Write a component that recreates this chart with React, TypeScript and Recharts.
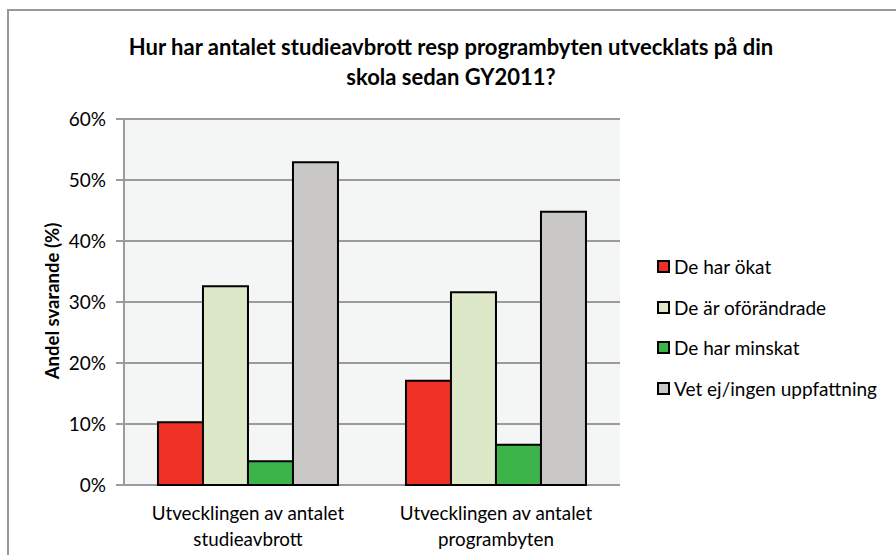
import { BarChart, Bar, XAxis, YAxis, CartesianGrid, Legend } from 'recharts'

const categories = ['Utvecklingen av antalet studieavbrott', 'Utvecklingen av antalet programbyten']
const okat = [10.3, 17.1]
const oforandrade = [32.6, 31.6]
const minskat = [3.9, 6.6]
const vetEj = [52.9, 44.8]
const yTicks = [0, 10, 20, 30, 40, 50, 60]

const series = [
  { key: 'okat', name: 'De har ökat', color: '#ee3124' },
  { key: 'oforandrade', name: 'De är oförändrade', color: '#dde8c9' },
  { key: 'minskat', name: 'De har minskat', color: '#3cb44a' },
  { key: 'vetEj', name: 'Vet ej/ingen uppfattning', color: '#c9c8c6' },
]

const data = categories.map((c, i) => ({
  cat: c,
  pos: i + 0.5,
  okat: okat[i],
  oforandrade: oforandrade[i],
  minskat: minskat[i],
  vetEj: vetEj[i],
}))

const FONT = 'Lato, "Open Sans", sans-serif'

function CatTick({ x, y, payload }: any) {
  const words = String(payload.value).split(' ')
  const line1 = words.slice(0, 3).join(' ')
  const line2 = words.slice(3).join(' ')
  return (
    <text x={x} y={y} textAnchor="middle" fontSize={18.8} fill="#000" fontFamily={FONT}>
      <tspan x={x} dy={27}>{line1}</tspan>
      <tspan x={x} dy={26}>{line2}</tspan>
    </text>
  )
}

function LegendList() {
  return (
    <div style={{ fontFamily: FONT, fontSize: 19, color: '#000' }}>
      {series.map(s => (
        <div key={s.key} style={{ display: 'flex', alignItems: 'center', height: 40.7 }}>
          <span style={{ width: 9, height: 9, background: s.color, border: '2px solid #000', marginRight: 4 }} />
          <span>{s.name}</span>
        </div>
      ))}
    </div>
  )
}

export default function App() {
  return (
    <div style={{ position: 'absolute', left: 0, top: 0, width: 896, height: 555, background: '#fff', overflow: 'hidden' }}>
      <div style={{ position: 'absolute', left: 7, top: 9, width: 900, height: 560, border: '2px solid #999' }} />
      <div style={{
        position: 'absolute', left: 0, top: 32, width: 902, textAlign: 'center',
        fontFamily: FONT, fontWeight: 700, fontSize: 22, lineHeight: '30px', color: '#000',
      }}>
        Hur har antalet studieavbrott resp programbyten utvecklats på din<br />skola sedan GY2011?
      </div>
      <BarChart
        width={896}
        height={555}
        data={data}
        margin={{ top: 119, right: 276, bottom: 20, left: 64 }}
        barCategoryGap="13.7%"
        barGap={0}
        style={{ position: 'absolute', left: 0, top: 0 }}
      >
        <CartesianGrid vertical={false} stroke="#9b9b9b" strokeWidth={2} fill="#f4f6f5" />
        <XAxis
          xAxisId="cat"
          dataKey="cat"
          tickLine={false}
          axisLine={false}
          height={50}
          interval={0}
          tick={<CatTick />}
        />
        <XAxis
          xAxisId="edge"
          type="number"
          dataKey="pos"
          domain={[0, 2]}
          ticks={[0, 1, 2]}
          tick={false}
          tickSize={7}
          stroke="#9b9b9b"
          axisLine={{ stroke: '#9b9b9b', strokeWidth: 2 }}
          tickLine={{ stroke: '#9b9b9b', strokeWidth: 2 }}
          height={0}
        />
        <YAxis
          domain={[0, 60]}
          ticks={yTicks}
          width={60}
          tickSize={8}
          tickMargin={10}
          tickFormatter={v => `${v}%`}
          tick={{ fontSize: 19, fill: '#000', fontFamily: FONT }}
          axisLine={{ stroke: '#9b9b9b', strokeWidth: 2 }}
          tickLine={{ stroke: '#9b9b9b', strokeWidth: 2 }}
        />
        <text
          x={52}
          y={301}
          transform="rotate(-90, 52, 301)"
          textAnchor="middle"
          dominantBaseline="central"
          fontFamily={FONT}
          fontWeight={700}
          fontSize={18.5}
          fill="#000"
        >
          Andel svarande (%)
        </text>
        <Legend
          verticalAlign="middle"
          layout="horizontal"
          content={<LegendList />}
          wrapperStyle={{ left: 657, top: 246, width: 236 }}
        />
        {series.map(s => (
          <Bar
            key={s.key}
            xAxisId="cat"
            dataKey={s.key}
            name={s.name}
            fill={s.color}
            stroke="#000"
            strokeWidth={2}
            isAnimationActive={false}
          />
        ))}
      </BarChart>
    </div>
  )
}
